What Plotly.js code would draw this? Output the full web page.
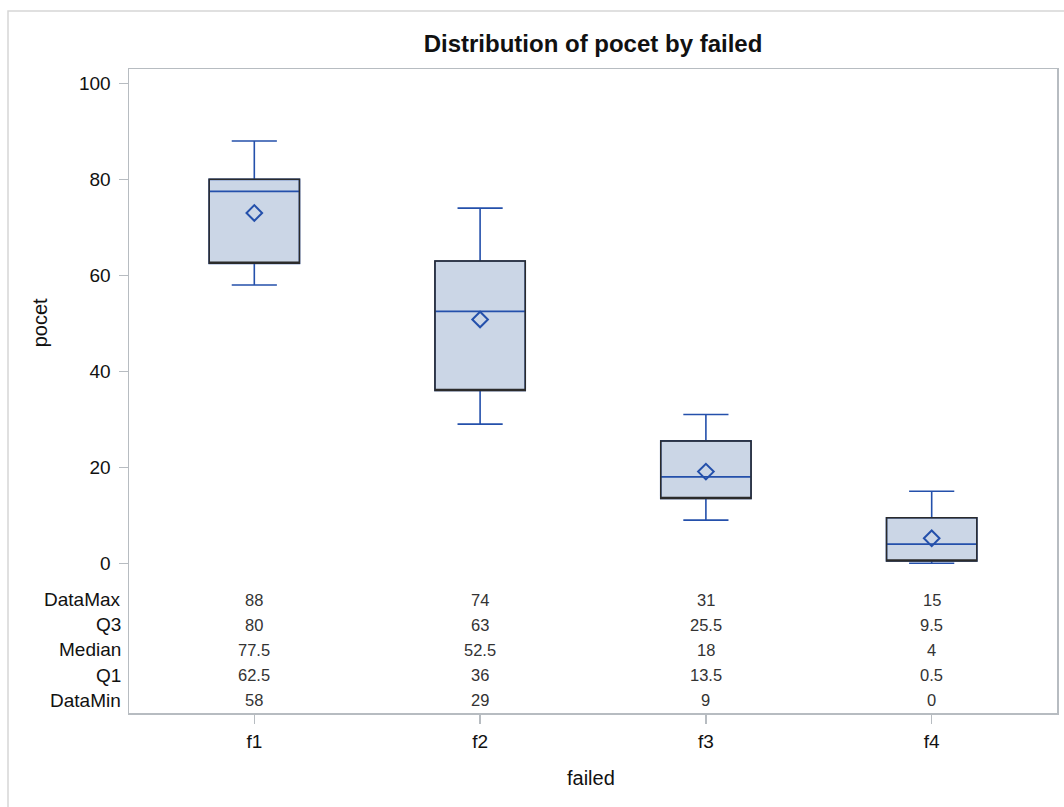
<!DOCTYPE html>
<html>
<head>
<meta charset="utf-8">
<script src="https://cdn.plot.ly/plotly-3.0.1.min.js"></script>
<style>
  html, body { margin: 0; padding: 0; background: #ffffff; }
  #chart { width: 1064px; height: 807px; }
</style>
</head>
<body>
<div id="chart"></div>
<script>
// ---- data ----
const categories = ['f1', 'f2', 'f3', 'f4'];
const dataMax = [88, 74, 31, 15];
const q3 = [80, 63, 25.5, 9.5];
const median = [77.5, 52.5, 18, 4];
const q1 = [62.5, 36, 13.5, 0.5];
const dataMin = [58, 29, 9, 0];
const meanVals = [73, 50.8, 19.1, 5.2];   // estimated from diamond positions
const statLabels = ['DataMax', 'Q3', 'Median', 'Q1', 'DataMin'];
const statSeries = [dataMax, q3, median, q1, dataMin];
const yTicks = [0, 20, 40, 60, 80, 100];

// ---- styling ----
const FONT = 'Liberation Sans, Arial, Helvetica, sans-serif';
const BLUE = '#2450ab';
const FILL = '#cbd6e6';
const AXIS = '#b7bcc1';
const rowY = [-7.6, -12.8, -18.0, -23.3, -28.5]; // table row positions (below the value scale)

const traces = [
  {
    type: 'box', x: categories, q1: q1, median: median, q3: q3,
    lowerfence: dataMin, upperfence: dataMax,
    fillcolor: FILL, line: { color: BLUE, width: 1.6 },
    width: 0.4, whiskerwidth: 0.5, boxpoints: false,
    hoverinfo: 'skip', showlegend: false
  },
  {
    type: 'box', x: categories, q1: q1, median: q1, q3: q3,
    lowerfence: q1, upperfence: q3,
    fillcolor: 'rgba(0,0,0,0)', line: { color: '#2b2b2b', width: 1.5 },
    width: 0.4, whiskerwidth: 0, boxpoints: false,
    hoverinfo: 'skip', showlegend: false
  },
  {
    type: 'scatter', mode: 'markers', x: categories, y: meanVals,
    marker: { symbol: 'diamond-open', size: 12, color: BLUE, line: { color: BLUE, width: 2 } },
    hoverinfo: 'skip', showlegend: false
  }
];

const annotations = [];
statLabels.forEach((lab, i) => {
  annotations.push({
    xref: 'paper', yref: 'y', x: -0.0065, y: rowY[i], text: lab,
    xanchor: 'right', yanchor: 'middle', showarrow: false,
    font: { family: FONT, size: 19, color: '#111' }
  });
  categories.forEach((c, j) => {
    annotations.push({
      xref: 'x', yref: 'y', x: c, y: rowY[i], text: String(statSeries[i][j]),
      xanchor: 'center', yanchor: 'middle', showarrow: false,
      font: { family: FONT, size: 16.5, color: '#333' }
    });
  });
});
annotations.push({
  xref: 'paper', yref: 'y', x: -0.0959, y: 50, text: 'pocet', textangle: -90,
  xanchor: 'center', yanchor: 'middle', showarrow: false,
  font: { family: FONT, size: 20, color: '#111' }
});
annotations.push({
  xref: 'paper', yref: 'paper', x: 0.498, y: -0.101, text: 'failed',
  xanchor: 'center', yanchor: 'middle', showarrow: false,
  font: { family: FONT, size: 20, color: '#111' }
});

const layout = {
  width: 1064, height: 807,
  margin: { l: 129, r: 7, t: 69, b: 94 },
  paper_bgcolor: '#ffffff', plot_bgcolor: '#ffffff',
  boxmode: 'overlay',
  title: {
    text: '<b>Distribution of pocet by failed</b>',
    x: 0.5, xref: 'paper', y: 1 - 44 / 807, yanchor: 'middle',
    font: { family: FONT, size: 24, color: '#111' }
  },
  xaxis: {
    type: 'category', categoryarray: categories, range: [-0.555, 3.555],
    showline: true, mirror: true, linecolor: AXIS, linewidth: 1.5,
    ticks: 'outside', ticklen: 9, tickcolor: AXIS, tickwidth: 1.5,
    showgrid: false, zeroline: false, ticklabelstandoff: 2,
    tickfont: { family: FONT, size: 19, color: '#111' }
  },
  yaxis: {
    range: [-31.2, 103], tickvals: yTicks, ticktext: yTicks.map(String),
    showline: true, mirror: true, linecolor: AXIS, linewidth: 1.5,
    ticks: 'outside', ticklen: 9, tickcolor: AXIS, tickwidth: 1.5,
    showgrid: false, zeroline: false, ticklabelstandoff: 4,
    tickfont: { family: FONT, size: 19, color: '#111' }
  },
  annotations: annotations,
  shapes: [{
    type: 'rect', xref: 'paper', yref: 'paper',
    x0: (8 - 129) / 928, x1: 1.05, y0: -0.3, y1: 1 + 58 / 644,
    line: { color: '#d6d6d6', width: 1.5 }, fillcolor: 'rgba(0,0,0,0)', layer: 'below'
  }]
};

Plotly.newPlot('chart', traces, layout, { displayModeBar: false, staticPlot: true });
</script>
</body>
</html>
